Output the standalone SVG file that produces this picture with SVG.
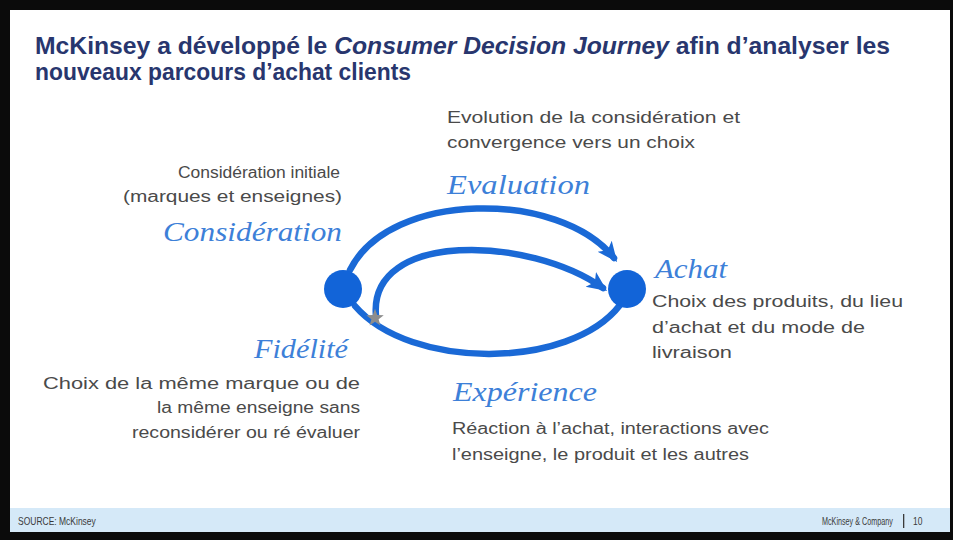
<svg xmlns="http://www.w3.org/2000/svg" width="953" height="540" viewBox="0 0 953 540">
  <style>
    .title { font-family: "Liberation Sans", Arial, sans-serif; font-weight: bold; font-size: 24px; fill: #28366e; }
    .body { font-family: "Liberation Sans", Arial, sans-serif; font-size: 16px; fill: #4a4a4a; }
    .stage { font-family: "Liberation Serif", "Times New Roman", serif; font-style: italic; font-size: 28px; fill: #3d80d8; }
    .foot { font-family: "Liberation Sans", Arial, sans-serif; font-size: 10px; fill: #3a3a3a; }
    .arc { fill: none; stroke: #1a69d6; stroke-width: 6.5; stroke-linecap: round; }
    .dot { fill: #1264d8; }
  </style>
  <defs>
    <marker id="arrow" markerUnits="userSpaceOnUse" markerWidth="22" markerHeight="20" viewBox="0 0 22 20" refX="15" refY="10" orient="auto">
      <path d="M0,1 L20,10 L0,19 L5,10 Z" fill="#1a69d6"/>
    </marker>
  </defs>

  <!-- slide frame -->
  <rect x="0" y="0" width="953" height="540" fill="#0b0b0b"/>
  <rect x="10" y="10" width="940" height="522" fill="#ffffff"/>
  <rect x="10" y="508" width="940" height="24" fill="#d5e9f8"/>

  <!-- heading -->
  <g id="title">
    <text class="title" x="35" y="54" textLength="855" lengthAdjust="spacingAndGlyphs">McKinsey a développé le <tspan font-style="italic">Consumer Decision Journey</tspan> afin d’analyser les</text>
    <text class="title" x="35" y="80" textLength="376" lengthAdjust="spacingAndGlyphs">nouveaux parcours d’achat clients</text>
  </g>

  <!-- connectors -->
  <g id="connectors">
    <path id="evaluation-arc" class="arc" d="M350,270 C390,190 560,190 614,258" marker-end="url(#arrow)"/>
    <path id="fidelite-arc" class="arc" d="M376,316 C368,230 530,236 603,288" marker-end="url(#arrow)"/>
    <path id="experience-arc" class="arc" d="M355,306 C410,370 570,370 620,305"/>
  </g>

  <g id="consideration">
    <circle class="dot" cx="343" cy="289" r="19"/>
    <text class="body" x="340" y="178" text-anchor="end" textLength="162" lengthAdjust="spacingAndGlyphs">Considération initiale</text>
    <text class="body" x="342" y="202" text-anchor="end" textLength="219" lengthAdjust="spacingAndGlyphs">(marques et enseignes)</text>
    <text class="stage" x="342" y="241" text-anchor="end" textLength="179" lengthAdjust="spacingAndGlyphs">Considération</text>
  </g>

  <g id="evaluation">
    <text class="body" x="447" y="123" textLength="293" lengthAdjust="spacingAndGlyphs">Evolution de la considération et</text>
    <text class="body" x="447" y="148" textLength="248" lengthAdjust="spacingAndGlyphs">convergence vers un choix</text>
    <text class="stage" x="447" y="194" textLength="143" lengthAdjust="spacingAndGlyphs">Evaluation</text>
  </g>

  <g id="achat">
    <circle class="dot" cx="627" cy="289" r="19"/>
    <text class="stage" x="655" y="278" textLength="72" lengthAdjust="spacingAndGlyphs">Achat</text>
    <text class="body" x="652" y="307" textLength="251" lengthAdjust="spacingAndGlyphs">Choix des produits, du lieu</text>
    <text class="body" x="652" y="333" textLength="213" lengthAdjust="spacingAndGlyphs">d’achat et du mode de</text>
    <text class="body" x="652" y="358" textLength="80" lengthAdjust="spacingAndGlyphs">livraison</text>
  </g>

  <g id="fidelite">
    <polygon fill="#8d8d8d" transform="translate(375 318) scale(1.15)" points="0,-8 1.94,-2.67 7.61,-2.47 3.14,1.02 4.7,6.47 0,3.3 -4.7,6.47 -3.14,1.02 -7.61,-2.47 -1.94,-2.67"/>
    <text class="stage" x="348" y="358" text-anchor="end" textLength="94" lengthAdjust="spacingAndGlyphs">Fidélité</text>
    <text class="body" x="360" y="389" text-anchor="end" textLength="317" lengthAdjust="spacingAndGlyphs">Choix de la même marque ou de</text>
    <text class="body" x="360" y="413" text-anchor="end" textLength="203" lengthAdjust="spacingAndGlyphs">la même enseigne sans</text>
    <text class="body" x="360" y="438" text-anchor="end" textLength="228" lengthAdjust="spacingAndGlyphs">reconsidérer ou ré évaluer</text>
  </g>

  <g id="experience">
    <text class="stage" x="453" y="401" textLength="144" lengthAdjust="spacingAndGlyphs">Expérience</text>
    <text class="body" x="452" y="434" textLength="317" lengthAdjust="spacingAndGlyphs">Réaction à l’achat, interactions avec</text>
    <text class="body" x="452" y="460" textLength="297" lengthAdjust="spacingAndGlyphs">l’enseigne, le produit et les autres</text>
  </g>

  <!-- footer: condensed small print -->
  <g id="footer">
    <text class="foot" transform="translate(18 525) scale(0.85 1)" x="0" y="0">SOURCE: McKinsey</text>
    <text class="foot" transform="translate(822 525) scale(0.72 1)" x="0" y="0">McKinsey &amp; Company</text>
    <rect x="903" y="514" width="1.3" height="14" fill="#3a3a3a"/>
    <text class="foot" transform="translate(913 525) scale(0.85 1)" x="0" y="0">10</text>
  </g>
</svg>
